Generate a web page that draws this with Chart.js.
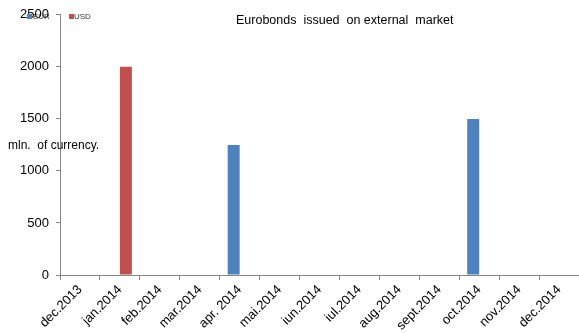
<!DOCTYPE html>
<html>
<head>
<meta charset="utf-8">
<script src="https://cdn.jsdelivr.net/npm/chart.js@4/dist/chart.umd.min.js"></script>
<style>
  html, body { margin: 0; padding: 0; background: #fff; }
  #wrap { width: 579px; height: 333px; }
</style>
</head>
<body>
<div id="wrap"><canvas id="grafica"></canvas></div>
<script>
const meses = ['dec.2013', 'jan.2014', 'feb.2014', 'mar.2014', 'apr. 2014', 'mai.2014', 'iun.2014',
  'iul.2014', 'aug.2014', 'sept.2014', 'oct.2014', 'nov.2014', 'dec.2014'];
const eur = [0, 0, 0, 0, 1250, 0, 0, 0, 0, 0, 1500, 0, 0];
const usd = [0, 2000, 0, 0, 0, 0, 0, 0, 0, 0, 0, 0, 0];
const titulo = 'Eurobonds  issued  on external  market';
const ejeY = 'mln.  of currency.';

const FUENTE = '"Liberation Sans", Arial, sans-serif';
const AZUL = '#4f81bd';
const ROJO = '#c0504d';

// Título, rótulo del eje y leyenda dibujados a mano sobre el área
const textos = {
  id: 'textos',
  afterDraw(chart) {
    const c = chart.ctx;
    c.save();
    c.fillStyle = '#000';
    c.textBaseline = 'middle';
    c.textAlign = 'left';
    c.font = '12.5px ' + FUENTE;
    c.fillText(titulo, 236, 21);
    c.font = '12px ' + FUENTE;
    c.fillText(ejeY, 8, 146);
    // leyenda
    c.font = '8px ' + FUENTE;
    c.fillStyle = AZUL;
    c.fillRect(27, 14, 5, 5);
    c.fillStyle = '#333';
    c.fillText('EUR', 33, 17);
    c.fillStyle = ROJO;
    c.fillRect(69, 14, 5, 5);
    c.fillStyle = '#333';
    c.fillText('USD', 74, 17);
    c.restore();
  }
};

const ctx = document.getElementById('grafica').getContext('2d');
new Chart(ctx, {
  type: 'bar',
  data: {
    labels: meses,
    datasets: [
      { label: 'EUR', data: eur, backgroundColor: AZUL, categoryPercentage: 0.6, barPercentage: 1 },
      { label: 'USD', data: usd, backgroundColor: ROJO, categoryPercentage: 0.6, barPercentage: 1 }
    ]
  },
  options: {
    responsive: true,
    maintainAspectRatio: false,
    animation: false,
    layout: { padding: { top: 9, right: 0 } },
    plugins: {
      legend: { display: false },
      tooltip: { enabled: false }
    },
    scales: {
      x: {
        grid: { offset: true, drawOnChartArea: false, tickLength: 5, color: '#868686' },
        border: { color: '#868686' },
        ticks: {
          color: '#000',
          font: { family: FUENTE, size: 13 },
          maxRotation: 45,
          minRotation: 45,
          autoSkip: false,
          padding: 2
        },
        afterFit(scale) { scale.height = 58; }
      },
      y: {
        min: 0,
        max: 2500,
        grid: { drawOnChartArea: false, tickLength: 4, color: '#868686' },
        border: { color: '#868686' },
        ticks: {
          stepSize: 500,
          color: '#000',
          font: { family: FUENTE, size: 13 },
          padding: 7,
          callback: v => String(v)
        },
        afterFit(scale) { scale.width = 60; }
      }
    }
  },
  plugins: [textos]
});
</script>
</body>
</html>
